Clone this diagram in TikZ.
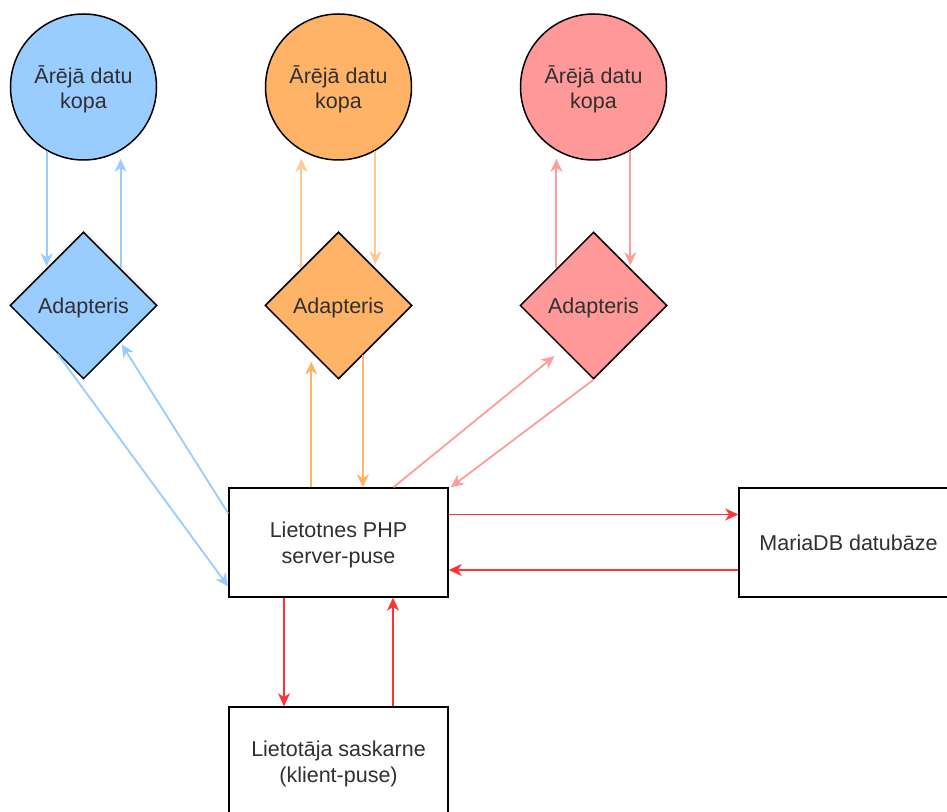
\documentclass[tikz,border=0pt]{standalone}
\usepackage{fontspec}
\setmainfont{Liberation Sans}
\usetikzlibrary{shapes.geometric,arrows.meta}
\definecolor{blueFill}{HTML}{99CCFF}
\definecolor{orangeFill}{HTML}{FFB366}
\definecolor{redFill}{HTML}{FF9999}
\definecolor{blueLine}{HTML}{99CCFF}
\definecolor{orangeLight}{HTML}{FFC894}
\definecolor{orangeLine}{HTML}{FFB366}
\definecolor{redLight}{HTML}{FF9C9C}
\definecolor{mainRed}{HTML}{FF3333}
\definecolor{txt}{HTML}{303030}
\begin{document}
\begin{tikzpicture}[x=1pt,y=1pt,
  every node/.style={font=\fontsize{21.5}{25.7}\selectfont, text=txt, text depth=0pt},
  dataset/.style={circle,draw=black,line width=1.5pt,minimum size=146pt,inner sep=0pt,align=center},
  adapter/.style={diamond,aspect=1,draw=black,line width=1.5pt,minimum width=147pt,minimum height=147pt,inner sep=0pt,align=center},
  block/.style={rectangle,draw=black,line width=1.5pt,fill=white,minimum width=219pt,minimum height=109pt,inner sep=0pt,align=center},
  flow/.style={line width=1.8pt,-{Stealth[length=13pt,width=12pt,inset=4pt]}},
]
\useasboundingbox (0,0) rectangle (947,811);
\fill[white] (0,0) rectangle (947,811);
\clip (0,0) rectangle (947,811);

% external data sets
\node[dataset,fill=blueFill]   (c1) at (83.5,724)  {Ārējā datu\\kopa};
\node[dataset,fill=orangeFill] (c2) at (338.5,724) {Ārējā datu\\kopa};
\node[dataset,fill=redFill]    (c3) at (593.5,724) {Ārējā datu\\kopa};

% adapters
\node[adapter,fill=blueFill]   (d1) at (83.5,505.5)  {Adapteris};
\node[adapter,fill=orangeFill] (d2) at (338.5,505.5) {Adapteris};
\node[adapter,fill=redFill]    (d3) at (593.5,505.5) {Adapteris};

% application blocks
\node[block] (php) at (338.5,268.5) {Lietotnes PHP\\server-puse};
\node[block] (db)  at (848.5,268.5) {MariaDB datubāze};
\node[block] (ui)  at (338.5,49.5)  {Lietotāja saskarne\\(klient-puse)};

% blue adapter
\draw[flow,blueLine,shorten >=2pt] (c1.-120) -- (c1.-120 |- d1.north west);
\draw[flow,blueLine,shorten >=8pt] (d1.north east) -- (d1.north east |- c1.-60);
\draw[flow,blueLine] (d1.-118) -- ([yshift=-44pt]php.west);
\draw[flow,blueLine,shorten >=2pt] ([yshift=29pt]php.west) -- (d1.-45);

% orange adapter
\draw[flow,orangeLight,shorten >=8pt] (d2.north west) -- (d2.north west |- c2.-120);
\draw[flow,orangeLight,shorten >=4pt] (c2.-60) -- (c2.-60 |- d2.north east);
\draw[flow,orangeLine,shorten >=9pt] (php.north -| d2.-120) -- (d2.-120);
\draw[flow,orangeLine] (d2.-64) -- (php.north -| d2.-64);

% red adapter
\draw[flow,redLight,shorten >=8pt] (d3.north west) -- (d3.north west |- c3.-120);
\draw[flow,redLight,shorten >=3pt] (c3.-60) -- (c3.-60 |- d3.north east);
\draw[flow,redLight,shorten >=11pt] ([xshift=55pt]php.north) -- (d3.-125);
\draw[flow,redLight] (d3.south) -- ([xshift=2pt]php.north east);

% server, database and client
\draw[flow,mainRed] ([yshift=28pt]php.east) -- ([yshift=28pt]db.west);
\draw[flow,mainRed] ([yshift=-27.5pt]db.west) -- ([yshift=-27.5pt]php.east);
\draw[flow,mainRed] ([xshift=-54.5pt]php.south) -- ([xshift=-54.5pt]ui.north);
\draw[flow,mainRed] ([xshift=54.5pt]ui.north) -- ([xshift=54.5pt]php.south);
\end{tikzpicture}
\end{document}
